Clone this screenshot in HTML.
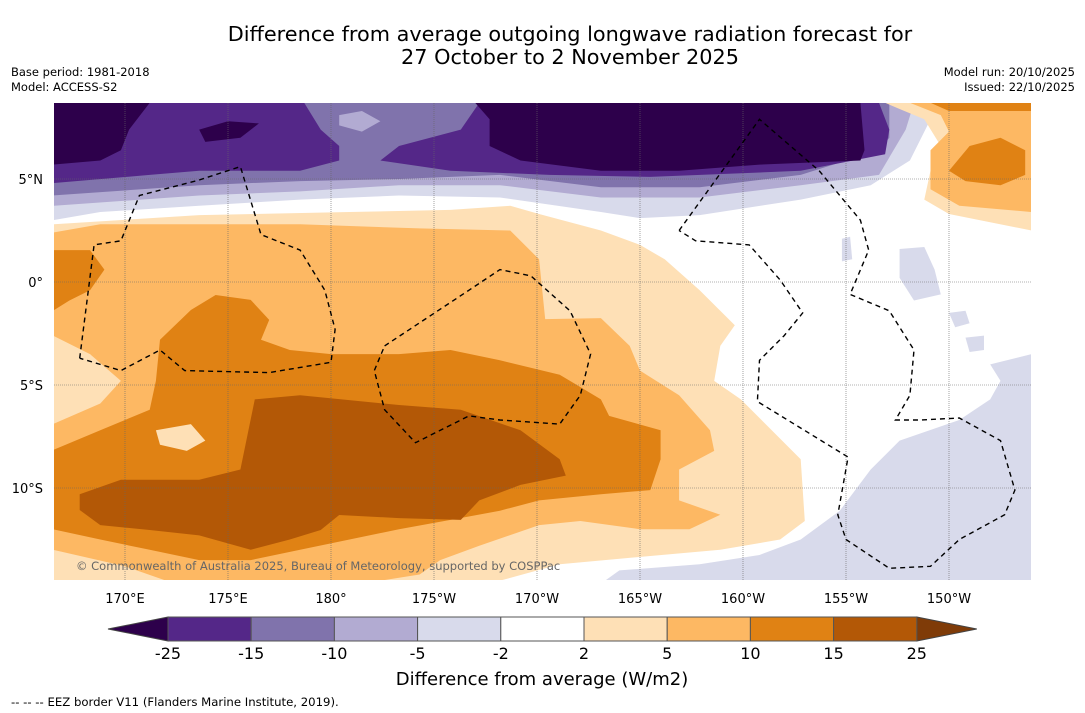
<!DOCTYPE html>
<html><head><meta charset="utf-8"><style>
html,body{margin:0;padding:0;background:#fff;}
svg{display:block;font-family:"DejaVu Sans","Liberation Sans",sans-serif;}
</style></head><body>
<svg id="c" width="1085" height="713" viewBox="0 0 1085 713">
<rect width="1085" height="713" fill="#fff"/>
<text x="570" y="41" font-size="20.8" text-anchor="middle">Difference from average outgoing longwave radiation forecast for</text>
<text x="570" y="64" font-size="20.8" text-anchor="middle">27 October to 2 November 2025</text>
<text x="11" y="76" font-size="11.5">Base period: 1981-2018</text>
<text x="11" y="91" font-size="11.5">Model: ACCESS-S2</text>
<text x="1075" y="76" font-size="11.5" text-anchor="end">Model run: 20/10/2025</text>
<text x="1075" y="91" font-size="11.5" text-anchor="end">Issued: 22/10/2025</text>
<defs><clipPath id="mc"><rect x="54" y="103" width="977" height="477"/></clipPath></defs>
<g id="map" clip-path="url(#mc)"><rect x="54" y="103" width="977" height="477" fill="#fff"/></g>
<g id="axes"></g>
<g id="cbar"></g>
<text x="542" y="685" font-size="18" text-anchor="middle">Difference from average (W/m2)</text>
<text x="11" y="706" font-size="11.7">--  --  -- EEZ border V11 (Flanders Marine Institute, 2019).</text>
</svg>
<script>
const NS='http://www.w3.org/2000/svg';
const levels=[-25,-15,-10,-5,-2,2,5,10,15,25];
const colors=['#2d004b','#542788','#8073ac','#b2abd2','#d8daeb','#ffffff','#fee0b6','#fdb863','#e08214','#b35806','#7f3b08'];
const lonTicks=[170,175,180,185,190,195,200,205,210];
const lonLabels=['170°E','175°E','180°','175°W','170°W','165°W','160°W','155°W','150°W'];
const latTicks=[5,0,-5,-10];
const latLabels=['5°N','0°','5°S','10°S'];
const contours=[
[4,[[166.5,8.7],[210.0,8.7],[209.1,7.9],[208.1,5.9],[206.2,4.7],[202.8,4.0],[197.9,3.25],[195.0,3.1],[193.1,3.4],[188.2,4.1],[183.3,4.2],[178.5,4.0],[173.6,3.7],[168.8,3.4],[166.5,3.0]]],
[3,[[166.5,8.7],[208.3,8.7],[207.9,7.4],[206.6,5.2],[202.8,4.7],[197.9,4.1],[193.1,4.1],[188.2,4.7],[183.3,4.7],[178.5,4.4],[173.6,4.2],[166.5,3.7]]],
[2,[[166.5,8.7],[207.1,8.7],[207.1,7.0],[206.6,6.4],[202.8,5.2],[197.9,4.6],[193.1,4.6],[188.2,5.2],[183.3,5.0],[178.5,4.9],[173.6,4.7],[166.5,4.2]]],
[1,[[166.5,8.7],[178.7,8.7],[179.5,7.4],[180.4,6.6],[180.4,5.9],[178.5,5.4],[173.6,5.4],[171.2,5.2],[166.5,4.8]]],
[1,[[187.2,8.7],[186.3,7.4],[183.3,6.6],[182.4,5.9],[185.8,5.4],[190.6,5.2],[195.5,5.1],[202.8,5.4],[206.9,6.2],[207.1,7.4],[206.6,8.7]]],
[3,[[180.4,8.1],[181.5,8.3],[182.4,7.8],[181.5,7.3],[180.4,7.6]]],
[0,[[166.5,8.7],[171.2,8.7],[170.2,7.4],[169.8,6.4],[168.8,5.9],[166.5,5.7]]],
[0,[[173.6,7.4],[175.0,7.8],[176.5,7.7],[175.6,7.0],[173.9,6.8]]],
[0,[[187.0,8.7],[205.7,8.7],[205.9,6.4],[205.7,5.9],[200.8,5.7],[196.9,5.4],[193.1,5.4],[189.2,5.9],[187.7,6.6],[187.7,7.9]]],
[6,[[206.9,8.7],[214.0,8.7],[214.0,2.5],[210.0,3.3],[208.8,4.0],[209.1,5.4],[209.6,6.6],[208.8,7.9],[207.6,8.4]]],
[7,[[208.1,8.7],[214.0,8.7],[214.0,3.4],[210.5,3.7],[209.1,4.5],[209.1,6.4],[210.0,7.3],[209.6,8.1]]],
[8,[[210.0,5.4],[211.0,6.6],[212.5,7.0],[213.7,6.4],[213.7,5.2],[212.5,4.7],[210.8,4.9]]],
[8,[[209.1,8.7],[214.0,8.7],[214.0,8.3],[210.0,8.3]]],
[6,[[166.5,2.8],[173.6,3.25],[180.9,3.4],[185.8,3.5],[188.7,3.7],[190.1,3.3],[193.1,2.5],[195.0,1.8],[196.2,1.1],[197.9,-0.4],[199.6,-2.1],[198.9,-3.1],[198.6,-4.8],[199.9,-5.7],[202.8,-8.6],[203.0,-11.6],[201.8,-12.5],[198.9,-13.0],[195.5,-13.3],[191.1,-13.7],[188.2,-14.5],[166.5,-14.5]]],
[7,[[166.5,2.4],[168.8,2.8],[173.6,2.8],[178.5,2.8],[184.3,2.6],[188.7,2.5],[190.1,1.1],[190.4,-1.8],[193.1,-1.75],[194.5,-3.1],[195.0,-4.3],[196.9,-5.5],[198.4,-7.2],[198.6,-8.2],[196.9,-9.1],[196.9,-10.6],[198.9,-11.3],[197.4,-12.0],[195.0,-12.0],[192.1,-11.6],[190.1,-11.8],[187.2,-12.8],[185.3,-13.5],[184.3,-14.2],[182.4,-14.5],[166.5,-14.5]]],
[6,[[166.5,-2.6],[168.3,-3.5],[169.8,-4.8],[168.8,-5.9],[166.5,-6.9]]],
[6,[[166.5,-13.0],[170.0,-13.8],[172.0,-14.5],[166.5,-14.5]]],
[8,[[166.5,1.55],[168.3,1.55],[169.0,0.6],[168.3,-0.4],[167.3,-0.9],[166.5,-1.4]]],
[8,[[166.5,-8.16],[168.8,-7.2],[171.2,-6.2],[171.5,-4.8],[171.7,-2.8],[173.2,-1.36],[174.4,-0.63],[176.1,-0.87],[177.0,-1.84],[176.6,-2.8],[178.0,-3.3],[180.0,-3.5],[183.3,-3.5],[185.8,-3.3],[188.2,-3.8],[191.1,-4.5],[193.1,-5.7],[193.5,-6.5],[196.0,-7.2],[196.0,-8.6],[195.5,-10.1],[193.1,-10.3],[190.1,-10.6],[188.2,-11.1],[185.8,-11.55],[183.3,-12.0],[180.9,-12.5],[178.5,-13.0],[176.1,-13.5],[173.6,-13.5],[171.2,-13.0],[168.8,-12.5],[166.5,-12.0]]],
[6,[[171.5,-7.2],[173.2,-6.9],[173.9,-7.7],[173.0,-8.2],[171.7,-7.9]]],
[9,[[167.8,-10.3],[169.8,-9.6],[173.6,-9.6],[175.6,-9.1],[176.3,-5.7],[178.5,-5.5],[183.3,-5.97],[186.3,-6.2],[189.2,-7.2],[191.1,-8.6],[191.4,-9.4],[189.2,-9.85],[187.2,-10.6],[186.3,-11.55],[183.3,-11.46],[180.4,-11.31],[179.5,-12.04],[178.0,-12.5],[176.1,-13.0],[173.6,-12.3],[171.2,-12.04],[168.8,-11.8],[167.8,-11.07]]],
[4,[[214.0,-3.5],[212.0,-4.0],[212.5,-4.8],[212.0,-5.7],[210.5,-6.7],[207.6,-7.7],[206.2,-9.1],[204.7,-11.1],[202.8,-12.5],[200.8,-13.25],[197.9,-13.7],[194.0,-14.0],[193.3,-14.5],[214.0,-14.5]]],
[4,[[207.6,1.6],[208.8,1.7],[209.3,0.6],[209.6,-0.6],[208.3,-0.9],[207.6,0.2]]],
[4,[[210.0,-1.5],[210.8,-1.4],[211.0,-2.0],[210.3,-2.2]]],
[4,[[210.8,-2.7],[211.7,-2.6],[211.7,-3.3],[211.0,-3.4]]],
[4,[[204.8,2.1],[205.2,2.2],[205.3,1.1],[204.8,1.0]]]
];
const eez=[
[[167.8,-3.7],[168.5,1.8],[169.8,2.0],[170.7,4.2],[173.6,4.95],[175.6,5.6],[176.6,2.3],[178.5,1.55],[179.7,-0.4],[180.2,-2.3],[180.0,-3.9],[177.0,-4.4],[172.9,-4.3],[171.7,-3.3],[169.8,-4.3],[167.8,-3.7]],
[[182.6,-3.1],[186.7,-0.4],[188.2,0.6],[189.7,0.3],[191.6,-1.4],[192.6,-3.5],[192.1,-5.5],[191.1,-6.9],[188.2,-6.7],[186.7,-6.5],[184.1,-7.8],[182.6,-6.2],[182.1,-4.3],[182.6,-3.1]],
[[196.9,2.5],[200.8,7.9],[203.7,5.4],[205.7,3.0],[206.1,1.55],[205.2,-0.6],[207.1,-1.4],[208.3,-3.3],[208.1,-5.5],[207.4,-6.7],[208.6,-6.7],[210.5,-6.6],[212.5,-7.7],[213.2,-10.1],[212.7,-11.3],[210.5,-12.5],[209.1,-13.8],[207.1,-13.9],[205.0,-12.5],[204.6,-11.3],[205.1,-8.5],[200.7,-5.8],[200.8,-3.8],[202.0,-2.6],[202.9,-1.5],[201.8,0.1],[200.3,1.8],[197.7,2.0],[196.9,2.5]]
];
const X=lon=>125+(lon-170)*20.6;
const Y=lat=>282-lat*20.6;
const map=document.getElementById('map');
contours.forEach((c,i)=>{
  const p=document.createElementNS(NS,'polygon');
  p.setAttribute('points',c[1].map(q=>X(q[0]).toFixed(1)+','+Y(q[1]).toFixed(1)).join(' '));
  p.setAttribute('fill',colors[c[0]]);
  
  
  map.appendChild(p);
});
lonTicks.forEach(l=>{
  const ln=document.createElementNS(NS,'line');
  ln.setAttribute('x1',X(l));ln.setAttribute('x2',X(l));ln.setAttribute('y1',103);ln.setAttribute('y2',580);
  ln.setAttribute('stroke','#666');ln.setAttribute('stroke-width','0.6');ln.setAttribute('stroke-dasharray','1 1');
  
  
  map.appendChild(ln);
});
latTicks.forEach(l=>{
  const ln=document.createElementNS(NS,'line');
  ln.setAttribute('x1',54);ln.setAttribute('x2',1031);ln.setAttribute('y1',Y(l));ln.setAttribute('y2',Y(l));
  ln.setAttribute('stroke','#666');ln.setAttribute('stroke-width','0.6');ln.setAttribute('stroke-dasharray','1 1');
  
  
  map.appendChild(ln);
});
eez.forEach(e=>{
  const p=document.createElementNS(NS,'polyline');
  p.setAttribute('points',e.map(q=>X(q[0]).toFixed(1)+','+Y(q[1]).toFixed(1)).join(' '));
  p.setAttribute('fill','none');p.setAttribute('stroke','#000');p.setAttribute('stroke-width','1.4');p.setAttribute('stroke-dasharray','5 4');
  
  
  map.appendChild(p);
});
const cp=document.createElementNS(NS,'text');
cp.setAttribute('x',76);cp.setAttribute('y',570);cp.setAttribute('font-size','11.5');cp.setAttribute('fill','#666');
cp.textContent='© Commonwealth of Australia 2025, Bureau of Meteorology, supported by COSPPac';


map.appendChild(cp);
const axes=document.getElementById('axes');
lonTicks.forEach((l,i)=>{
  const t=document.createElementNS(NS,'text');
  t.setAttribute('x',X(l));t.setAttribute('y',603);t.setAttribute('font-size','13');t.setAttribute('text-anchor','middle');
  t.textContent=lonLabels[i];
  
  
  axes.appendChild(t);
});
latTicks.forEach((l,i)=>{
  const t=document.createElementNS(NS,'text');
  t.setAttribute('x',43);t.setAttribute('y',Y(l)+5);t.setAttribute('font-size','13');t.setAttribute('text-anchor','end');
  t.textContent=latLabels[i];
  
  
  axes.appendChild(t);
});
const cb=document.getElementById('cbar');
const bx0=168,bw=83.2,by=617,bh=24;
const t1=document.createElementNS(NS,'polygon');
t1.setAttribute('points',`${bx0},${by} 108,${by+bh/2} ${bx0},${by+bh}`);t1.setAttribute('fill',colors[0]);t1.setAttribute('stroke','#444');


cb.appendChild(t1);
const xe=bx0+bw*(levels.length-1);
const t2=document.createElementNS(NS,'polygon');
t2.setAttribute('points',`${xe},${by} ${xe+60},${by+bh/2} ${xe},${by+bh}`);t2.setAttribute('fill',colors[10]);t2.setAttribute('stroke','#444');


cb.appendChild(t2);
for(let i=0;i<levels.length-1;i++){
  const r=document.createElementNS(NS,'rect');
  r.setAttribute('x',bx0+i*bw);r.setAttribute('y',by);r.setAttribute('width',bw);r.setAttribute('height',bh);
  r.setAttribute('fill',colors[i+1]);r.setAttribute('stroke','#555');r.setAttribute('stroke-width','1');
  
  
  cb.appendChild(r);
}
levels.forEach((v,i)=>{
  const t=document.createElementNS(NS,'text');
  t.setAttribute('x',bx0+i*bw);t.setAttribute('y',659);t.setAttribute('font-size','16');t.setAttribute('text-anchor','middle');
  t.textContent=String(v);
  
  
  cb.appendChild(t);
});
</script>
</body></html>
